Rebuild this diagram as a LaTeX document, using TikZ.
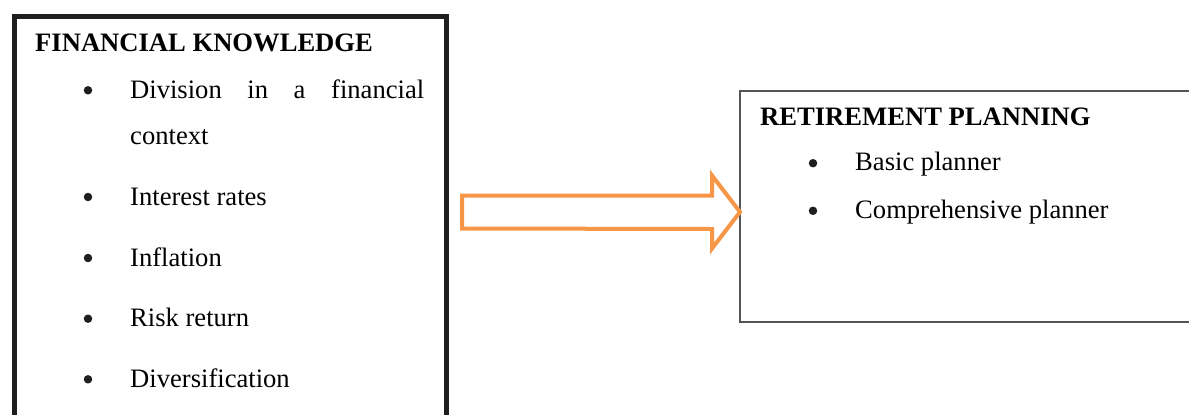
\documentclass[tikz,border=0pt]{standalone}
\usepackage{fontspec}
\setmainfont{Liberation Serif}
\definecolor{arroworange}{HTML}{F79646}
\definecolor{framegray}{HTML}{555555}
\begin{document}
\begin{tikzpicture}[x=1pt,y=-1pt,
  txt/.style={anchor=base west,inner sep=0pt,font=\fontsize{26.6}{32}\selectfont},
  head/.style={txt,font=\fontsize{26.6}{32}\selectfont\bfseries},
  dot/.style={circle,fill=black!88,inner sep=0pt,minimum size=8.5pt},
  knowbox/.style={draw=black!88,line width=5pt,rectangle,inner sep=0pt,anchor=north west},
  planbox/.style={draw=framegray,line width=1.8pt,rectangle,inner sep=0pt,anchor=north west},
  bigarrow/.style={draw=arroworange,line width=4pt,line join=miter,fill=white}]
\useasboundingbox (0,0) rectangle (1189,415);
\clip (0,0) rectangle (1189,415);

% the two frames, both running off the page
\node[knowbox,minimum width=432pt,minimum height=430pt] (know) at (12,13.5) {};
\node[planbox,minimum width=470pt,minimum height=231pt] (plan) at (739,90) {};

% left frame: financial knowledge
\node[head] (kh) at (35,51.7) {FINANCIAL KNOWLEDGE};
\foreach \n/\y in {1/98.3,2/205,3/266,4/326.7,5/387.3}
  \node[dot] (kb\n) at (88,\y-8) {};
\node[txt] (k1) at (130,98.3) {\makebox[294pt][s]{Division\hfill in\hfill a\hfill financial}};
\node[txt] (k1b) at (130,144.3) {context};
\node[txt] (k2) at (130,205) {Interest rates};
\node[txt] (k3) at (130,266) {Inflation};
\node[txt] (k4) at (130,326.7) {Risk return};
\node[txt] (k5) at (130,387.3) {Diversification};

% right frame: retirement planning
\node[head] (ph) at (760,125) {RETIREMENT PLANNING};
\node[dot] (pb1) at (813,170.7-7.5) {};
\node[dot] (pb2) at (813,218.3-7.5) {};
\node[txt] (p1) at (855,170.7) {Basic planner};
\node[txt] (p2) at (855,218.3) {Comprehensive planner};

% hollow block arrow from the knowledge frame to the planning frame
\coordinate (tail) at (462,212);
\coordinate (tip) at ([xshift=1pt]plan.west |- tail);
\draw[bigarrow]
  ([yshift=16.5pt]tail) -- ++(250,0) -- ++(0,-20)
  -- (tip)
  -- ([xshift=-28pt,yshift=-36.5pt]tip) -- ++(0,-19.5)
  -- ([yshift=-16.5pt]tail) -- cycle;
\end{tikzpicture}
\end{document}
